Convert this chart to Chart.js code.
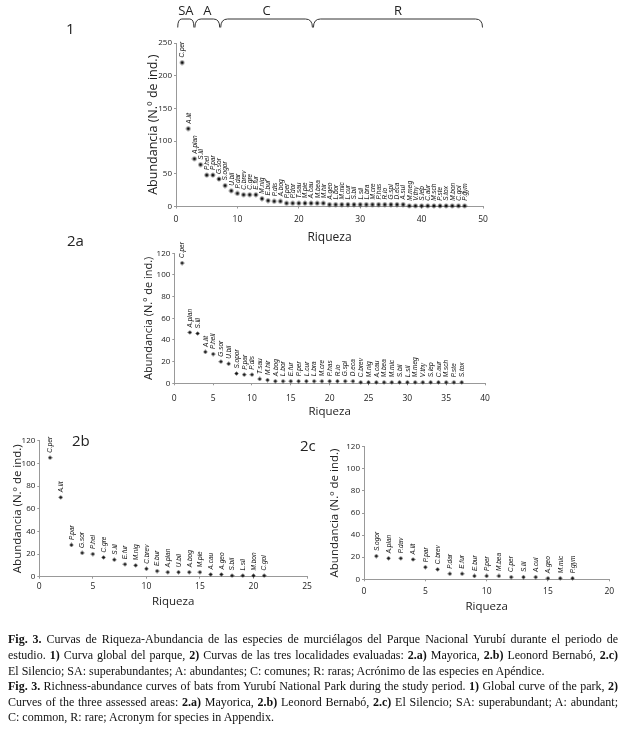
<!DOCTYPE html>
<html><head><meta charset="utf-8">
<script src="https://cdn.jsdelivr.net/npm/chart.js@4"></script>
<style>
body{margin:0;background:#fff;}
#wrap{position:relative;width:627px;height:737px;overflow:hidden;background:#fff;}
canvas{position:absolute;left:0;top:0;}
.lbl{position:absolute;font-family:'Open Sans',sans-serif;font-size:15px;color:#222;line-height:18px;}
.cap{position:absolute;left:8px;width:610px;font-family:'Liberation Serif',serif;font-size:12px;line-height:15.7px;color:#111;white-space:normal;}
.j{text-align:justify;text-align-last:justify;}
</style></head>
<body><div id="wrap">
<canvas id="c1" width="627" height="737"></canvas>
<canvas id="c2a" width="627" height="737"></canvas>
<canvas id="c2b" width="627" height="737"></canvas>
<canvas id="c2c" width="627" height="737"></canvas>
<div class="lbl" style="left:66px;top:19px;">1</div>
<div class="lbl" style="left:67px;top:231px;">2a</div>
<div class="lbl" style="left:72px;top:431px;">2b</div>
<div class="lbl" style="left:300px;top:436px;">2c</div>
<div class="cap j" style="top:632px;"><b>Fig. 3.</b> Curvas de Riqueza-Abundancia de las especies de murciélagos del Parque Nacional Yurubí durante el periodo de</div>
<div class="cap j" style="top:648px;">estudio. <b>1)</b> Curva global del parque, <b>2)</b> Curvas de las tres localidades evaluadas: <b>2.a)</b> Mayorica, <b>2.b)</b> Leonord Bernabó, <b>2.c)</b></div>
<div class="cap" style="top:663.5px;">El Silencio; SA: superabundantes; A: abundantes; C: comunes; R: raras; Acrónimo de las especies en Apéndice.</div>
<div class="cap j" style="top:679px;"><b>Fig. 3.</b> Richness-abundance curves of bats from Yurubí National Park during the study period. <b>1)</b> Global curve of the park, <b>2)</b></div>
<div class="cap j" style="top:694.5px;">Curves of the three assessed areas: <b>2.a)</b> Mayorica, <b>2.b)</b> Leonord Bernabó, <b>2.c)</b> El Silencio; SA: superabundant; A: abundant;</div>
<div class="cap" style="top:710px;">C: common, R: rare; Acronym for species in Appendix.</div>
</div>
<script>
// ---- Data ----
const speciesGlobal = ["C.per","A.lit","A.plan","S.lil","P.hel","P.par","G.sor","S.ogor","U.bil","P.dar","C.brev","C.gre","E.fur","M.nig","E.bur","P.dis","A.bog","P.per","P.dor","T.sau","M.pie","A.cau","M.bea","M.hir","A.geo","L.bor","M.mic","L.cur","S.bil","L.sil","L.bra","M.cre","P.has","R.io","G.spl","D.eca","A.sul","M.meg","V.thy","S.lep","C.aur","M.sch","P.ste","S.tox","M.bon","C.gol","P.gym"];
const abundGlobal = [220,119,73,64,48,48,42,32,24,20,18,18,18,12,9,8,8,5,5,5,5,5,5,5,3,3,3,3,3,3,3,3,3,3,3,3,3,1,1,1,1,1,1,1,1,1,1];

const speciesMayorica = ["C.per","A.plan","S.lil","A.lit","P.hell","G.sor","U.bil","S.opor","P.par","P.dis","T.sau","M.hir","A.bog","L.bor","E.fur","P.per","L.cur","L.bra","M.cre","P.has","R.io","G.spl","D.eca","C.brev","M.nig","A.cau","M.bea","M.mic","S.bil","L.sil","M.meg","V.thy","S.lep","C.aur","M.sch","P.ste","S.tox"];
const abundMayorica = [111,47,46,29,27,20,18,9,8,8,4,3,2,2,2,2,2,2,2,2,2,2,2,1,1,1,1,1,1,1,1,1,1,1,1,1,1];

const speciesBernabo = ["C.per","A.lit","P.par","G.sor","P.hel","C.gre","S.lil","E.fur","M.nig","C.brev","E.bur","A.plan","U.bil","A.bog","M.pie","A.cau","A.geo","S.bil","L.sil","M.bon","C.gol"];
const abundBernabo = [105,70,28,21,20,17,15,11,10,7,5,4,4,4,4,2,2,1,1,1,1];

const speciesSilencio = ["S.ogor","A.plan","P.dav","A.lit","P.par","C.brev","P.dar","E.fur","E.bur","P.per","M.bea","C.per","S.lil","A.cul","A.geo","M.mic","P.gym"];
const abundSilencio = [21,19,19,18,11,9,5,5,3,3,3,2,2,2,1,1,1];

const classNames = ["SA","A","C","R"];
const classBounds = [0.2, 3, 7.2, 22.3, 50];

const yTitle = "Abundancia (N.\u00ba de ind.)";
const xTitle = "Riqueza";

// ---- marker: small 8-point star ----
function starMarker(size) {
  const c = document.createElement('canvas');
  c.width = size; c.height = size;
  const g = c.getContext('2d');
  const cx = size / 2, cy = size / 2;
  g.fillStyle = '#111';
  g.beginPath();
  const n = 8;
  for (let k = 0; k < n * 2; k++) {
    const ang = -Math.PI / 2 + k * Math.PI / n;
    const rr = (k % 2 === 0) ? ((k / 2) % 2 === 0 ? size / 2 : size / 2 * 0.8) : size / 2 * 0.45;
    const px = cx + rr * Math.cos(ang), py = cy + rr * Math.sin(ang);
    if (k === 0) g.moveTo(px, py); else g.lineTo(px, py);
  }
  g.closePath();
  g.fill();
  return c;
}

// ---- Plugins ----
const pointLabels = {
  id: 'ptLabels',
  afterDatasetsDraw(chart, args, opts) {
    const ctx = chart.ctx;
    const meta = chart.getDatasetMeta(0);
    ctx.save();
    ctx.fillStyle = '#111';
    ctx.font = 'italic ' + opts.size + 'px "Liberation Sans Narrow","Liberation Sans",sans-serif';
    ctx.textAlign = 'left';
    ctx.textBaseline = 'middle';
    meta.data.forEach((pt, i) => {
      ctx.save();
      ctx.translate(pt.x + 0.5, pt.y - opts.offset);
      ctx.rotate(-Math.PI / 2);
      ctx.fillText(opts.labels[i], 0, 0);
      ctx.restore();
    });
    ctx.restore();
  }
};
const braces = {
  id: 'braces',
  afterDraw(chart, args, opts) {
    if (!opts || !opts.bounds) return;
    const ctx = chart.ctx, xs = chart.scales.x;
    ctx.save();
    ctx.strokeStyle = '#333';
    ctx.lineWidth = 1;
    ctx.fillStyle = '#222';
    ctx.font = '13px "Open Sans",sans-serif';
    ctx.textAlign = 'center';
    ctx.textBaseline = 'middle';
    for (let i = 0; i < opts.names.length; i++) {
      const x1 = xs.getPixelForValue(opts.bounds[i]) + 0.5;
      const x2 = xs.getPixelForValue(opts.bounds[i + 1]) - 0.5;
      const r = Math.min(7, (x2 - x1) / 4);
      const yT = 19, yB = 27.5;
      ctx.beginPath();
      ctx.moveTo(x1, yB);
      ctx.quadraticCurveTo(x1, yT, x1 + r, yT);
      ctx.lineTo(x2 - r, yT);
      ctx.quadraticCurveTo(x2, yT, x2, yB);
      ctx.stroke();
      ctx.fillText(opts.names[i], (x1 + x2) / 2, 11.5);
    }
    ctx.restore();
  }
};

function makeChart(id, cfg) {
  const W = 627, H = 737;
  const yLH = cfg.yTitleSize * 1.2, xLH = cfg.xTitleSize * 1.2;
  const padL = cfg.yTitleX - yLH / 2;
  const xBottom = cfg.xTitleY + xLH / 2;
  const pts = cfg.values.map((v, i) => ({x: i + 1, y: v}));
  const plugins = {
    legend: {display: false},
    tooltip: {enabled: false},
    ptLabels: {labels: cfg.labels, size: cfg.labelSize, offset: cfg.labelOffset}
  };
  if (cfg.braces) plugins.braces = cfg.braces;
  new Chart(document.getElementById(id), {
    type: 'scatter',
    data: {datasets: [{
      data: pts,
      borderColor: '#111',
      backgroundColor: '#111',
      pointStyle: starMarker(cfg.markerSize),
      clip: false
    }]},
    options: {
      responsive: false,
      animation: false,
      events: [],
      layout: {padding: {left: padL, top: cfg.T, right: W - cfg.R, bottom: H - xBottom}},
      scales: {
        x: {
          type: 'linear', min: 0, max: cfg.xMax,
          afterFit: s => { s.height = xBottom - cfg.B; },
          ticks: {stepSize: cfg.xStep, color: '#222', padding: cfg.xTickPad, font: {family: 'Open Sans', size: 8.5}, maxRotation: 0},
          grid: {display: true, drawOnChartArea: false, drawTicks: true, tickLength: 2, color: '#999'},
          border: {display: true, color: '#999'},
          title: {display: true, text: xTitle, color: '#222', padding: 0, font: {family: 'Open Sans', size: cfg.xTitleSize}}
        },
        y: {
          type: 'linear', min: 0, max: cfg.yMax,
          afterFit: s => { s.width = cfg.L - padL; },
          ticks: {stepSize: cfg.yStep, color: '#222', padding: 2, font: {family: 'Open Sans', size: 8}},
          grid: {display: true, drawOnChartArea: false, drawTicks: true, tickLength: 2, color: '#999'},
          border: {display: true, color: '#999'},
          title: {display: true, text: yTitle, color: '#222', padding: 0, font: {family: 'Open Sans', size: cfg.yTitleSize}}
        }
      },
      plugins
    },
    plugins: [pointLabels, braces]
  });
}

makeChart('c1', {L:176, T:43, R:483, B:206.5, yTitleX:153, xTitleY:238, xMax:50, xStep:10, yMax:250, yStep:50,
  yTitleSize:12.5, xTitleSize:12, xTickPad:6, labels: speciesGlobal, values: abundGlobal, labelSize:6.5, labelOffset:5, markerSize:6,
  braces: {bounds: classBounds, names: classNames}});
makeChart('c2a', {L:174.3, T:253.3, R:485, B:383.3, yTitleX:149, xTitleY:412, xMax:40, xStep:5, yMax:120, yStep:10,
  yTitleSize:11, xTitleSize:11.5, xTickPad:8, labels: speciesMayorica, values: abundMayorica, labelSize:6.5, labelOffset:5, markerSize:5});
makeChart('c2b', {L:39.3, T:440.7, R:307, B:576.7, yTitleX:18, xTitleY:601.7, xMax:25, xStep:5, yMax:120, yStep:10,
  yTitleSize:11.5, xTitleSize:11.5, xTickPad:3, labels: speciesBernabo, values: abundBernabo, labelSize:6.5, labelOffset:5, markerSize:5});
makeChart('c2c', {L:364, T:446.7, R:609.3, B:579.3, yTitleX:335, xTitleY:607, xMax:20, xStep:5, yMax:120, yStep:10,
  yTitleSize:11.5, xTitleSize:11.5, xTickPad:5, labels: speciesSilencio, values: abundSilencio, labelSize:6.5, labelOffset:5, markerSize:5});
</script>
</body></html>
